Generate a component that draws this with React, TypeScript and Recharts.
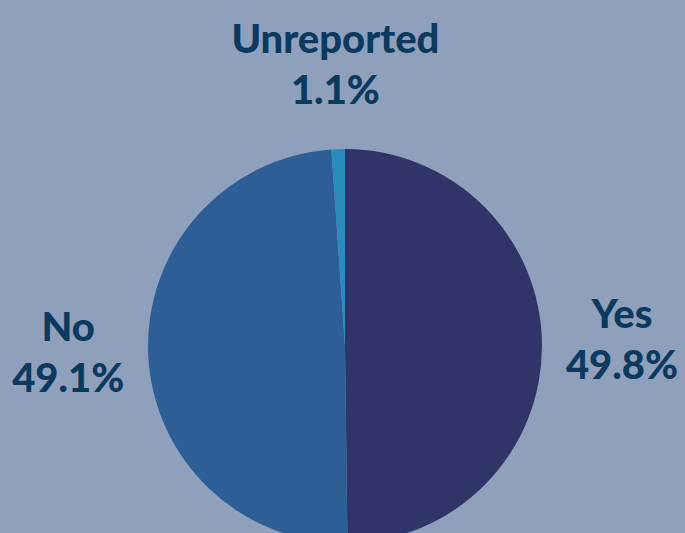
import React from "react";
import { PieChart, Pie, Cell } from "recharts";

const categories = ["Yes", "No", "Unreported"];
const values = [49.8, 49.1, 1.1];
const colors = ["#303469", "#2e5e96", "#2b8bbd"];

const data = categories.map((name, i) => ({ name, value: values[i] }));

const RAD = Math.PI / 180;

const renderLabel = (props: any) => {
  const { cx, cy, midAngle, outerRadius, index } = props;
  const r = outerRadius + 80;
  const x = cx + r * Math.cos(-midAngle * RAD);
  const y = cy + r * Math.sin(-midAngle * RAD);
  return (
    <text
      x={x}
      y={y}
      textAnchor="middle"
      fill="#0b3a5e"
      fontFamily="Lato, 'DejaVu Sans', sans-serif"
      fontWeight={900}
      fontSize={40}
    >
      <tspan x={x} y={y - 16}>{categories[index]}</tspan>
      <tspan x={x} y={y + 35}>{`${values[index].toFixed(1)}%`}</tspan>
    </text>
  );
};

export default function App() {
  return (
    <div
      style={{
        position: "absolute",
        left: 0,
        top: 0,
        width: 685,
        height: 533,
        background: "#8fa0bd",
        overflow: "hidden",
      }}
    >
      <PieChart width={685} height={533} margin={{ top: 0, right: 0, bottom: 0, left: 0 }}>
        <Pie
          data={data}
          dataKey="value"
          nameKey="name"
          cx={345}
          cy={346}
          outerRadius={197}
          startAngle={90}
          endAngle={-270}
          stroke="none"
          label={renderLabel}
          labelLine={false}
          isAnimationActive={false}
        >
          {data.map((d, i) => (
            <Cell key={d.name} fill={colors[i]} />
          ))}
        </Pie>
      </PieChart>
    </div>
  );
}
